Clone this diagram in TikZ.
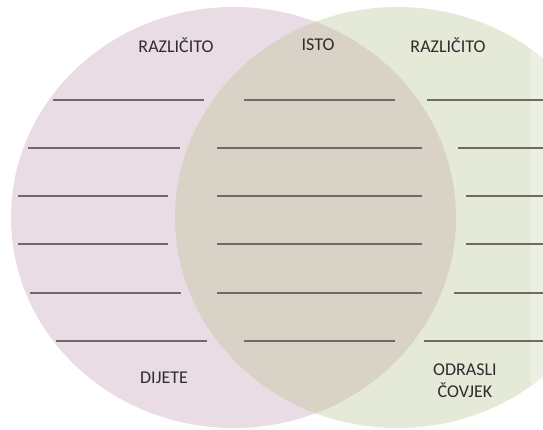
\documentclass[tikz,border=0pt]{standalone}
\usepackage{fontspec}
\setmainfont{Carlito}
\definecolor{pinkc}{RGB}{234,220,228}
\definecolor{greenc}{RGB}{228,233,216}
\definecolor{midc}{RGB}{216,210,199}
\definecolor{linec}{RGB}{108,106,106}
\definecolor{textc}{RGB}{45,45,45}
\begin{document}
\begin{tikzpicture}[x=1pt,y=-1pt,
  lbl/.style={font=\fontsize{18}{22}\selectfont, text=textc, align=center, inner sep=0pt},
  ruleline/.style={draw=linec, line width=1.6pt}]
\useasboundingbox (0,0) rectangle (543,430);
\fill[white] (0,0) rectangle (543,430);
\fill[pinkc] (233.5,217.5) ellipse [x radius=222.5, y radius=210.5];
\fill[greenc] (397.5,217.5) ellipse [x radius=222.5, y radius=210.5];
\begin{scope}
  \clip (233.5,217.5) ellipse [x radius=222.5, y radius=210.5];
  \fill[midc] (397.5,217.5) ellipse [x radius=222.5, y radius=210.5];
\end{scope}
\fill[white, opacity=0.3] (531,0) rectangle (543,430);
\foreach \yy/\la/\lb/\ma/\mb/\ra in {100/53/204/244/395/427, 148/28/180/217/422/458, 196/18/168/217/422/466, 244/18/168/217/422/466, 293/30/181/217/422/454, 341/56/207/244/395/424}{
  \draw[ruleline] (\la,\yy) -- (\lb,\yy);
  \draw[ruleline] (\ma,\yy) -- (\mb,\yy);
  \draw[ruleline] (\ra,\yy) -- (543,\yy);
}
\node[lbl] (r1) at (176,45) {RAZLIČITO};
\node[lbl] (is) at (318,45) {ISTO};
\node[lbl] (r2) at (448,45) {RAZLIČITO};
\node[lbl] (dj) at (164,378) {DIJETE};
\node[lbl] (oc) at (465,381) {ODRASLI\\ČOVJEK};
\end{tikzpicture}
\end{document}
